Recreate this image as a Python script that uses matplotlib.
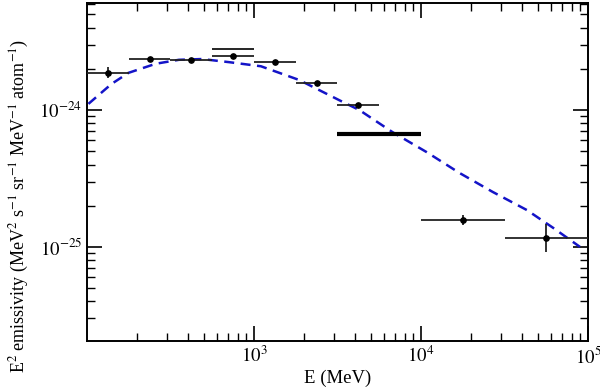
import numpy as np
import matplotlib
matplotlib.use('Agg')
from matplotlib import pyplot as plt
from matplotlib.ticker import LogLocator, NullFormatter

plt.rcParams['font.family'] = ['Liberation Serif', 'DejaVu Serif']
plt.rcParams['mathtext.fontset'] = 'stix'

# data points: bin edges (MeV), centre, emissivity and vertical error
bin_lo = [100, 178, 316, 562, 1000, 1778, 3162, 10000, 31623]
bin_hi = [178, 316, 562, 1000, 1778, 3162, 5623, 31623, 100000]
e_mid = [133, 237, 422, 750, 1334, 2371, 4217, 17800, 56200]
emis = [1.88e-24, 2.38e-24, 2.34e-24, 2.49e-24, 2.24e-24, 1.58e-24, 1.09e-24, 1.56e-25, 1.16e-25]
err_lo = [0.16e-24, 0.06e-24, 0.04e-24, 0.05e-24, 0.04e-24, 0.03e-24, 0.03e-24, 0.12e-25, 0.25e-25]
err_hi = [0.18e-24, 0.06e-24, 0.04e-24, 0.05e-24, 0.04e-24, 0.03e-24, 0.03e-24, 0.14e-25, 0.30e-25]

# thick bar without a marker (3.2-10 GeV) and thin one above the 0.56-1 GeV point
band_lo = [3162]
band_hi = [10000]
band_y = [6.67e-25]
upper_lo = [562]
upper_hi = [1000]
upper_y = [2.81e-24]

# model curve (dashed blue)
model_e = [102, 140, 177, 258, 355, 488, 708, 1100, 1862, 3243, 4276, 6750,
           10800, 17000, 26900, 43000, 61700, 89500]
model_y = [1.11e-24, 1.55e-24, 1.87e-24, 2.18e-24, 2.33e-24, 2.36e-24, 2.24e-24,
           2.09e-24, 1.66e-24, 1.18e-24, 1.0e-24, 6.9e-25, 4.93e-25, 3.47e-25,
           2.52e-25, 1.86e-25, 1.38e-25, 1.0e-25]

fig = plt.figure(figsize=(6, 3.88), dpi=100)
ax = fig.add_axes([0.145, 0.121, 0.835, 0.871])

ax.plot(model_e, model_y, color='#1414c8', lw=1.8, ls=(0, (4, 2.6)), zorder=3)

e_mid = np.array(e_mid)
xerr = [e_mid - np.array(bin_lo), np.array(bin_hi) - e_mid]
ax.errorbar(e_mid, emis, xerr=xerr, yerr=[err_lo, err_hi], fmt='o', color='black',
            ecolor='#222222', elinewidth=1.3, ms=3.8, capsize=0, zorder=4)

ax.hlines(band_y, band_lo, band_hi, color='black', lw=3.0, zorder=4)
ax.hlines(upper_y, upper_lo, upper_hi, color='black', lw=1.2, zorder=4)

ax.set_xscale('log')
ax.set_yscale('log')
ax.set_xlim(100, 1e5)
ax.set_ylim(2.05e-26, 6.05e-24)

ax.xaxis.set_minor_locator(LogLocator(base=10, subs=np.arange(2, 10), numticks=20))
ax.yaxis.set_minor_locator(LogLocator(base=10, subs=np.arange(2, 10), numticks=20))
ax.yaxis.set_minor_formatter(NullFormatter())
ax.xaxis.set_minor_formatter(NullFormatter())
ax.set_xticks([1e3, 1e4, 1e5])
ax.set_xticklabels(['$10^{3}$', '$10^{4}$', '$10^{5}$'])
ax.set_yticks([1e-25, 1e-24])
ax.set_yticklabels(['$10^{-25}$', '$10^{-24}$'])

ax.tick_params(which='both', direction='in', top=True, right=True, labelsize=13.5)
ax.tick_params(which='major', length=11, width=1.2)
ax.tick_params(which='minor', length=6, width=1.0)
for s in ax.spines.values():
    s.set_linewidth(1.4)

ax.set_xlabel('E (MeV)', fontsize=13.5, labelpad=2)
ax.set_ylabel('E$^{2}$ emissivity (MeV$^{2}$ s$^{-1}$ sr$^{-1}$ MeV$^{-1}$ atom$^{-1}$)',
              fontsize=13)
ax.yaxis.set_label_coords(-0.112, 0.40)

fig.savefig('out.png', dpi=100)
